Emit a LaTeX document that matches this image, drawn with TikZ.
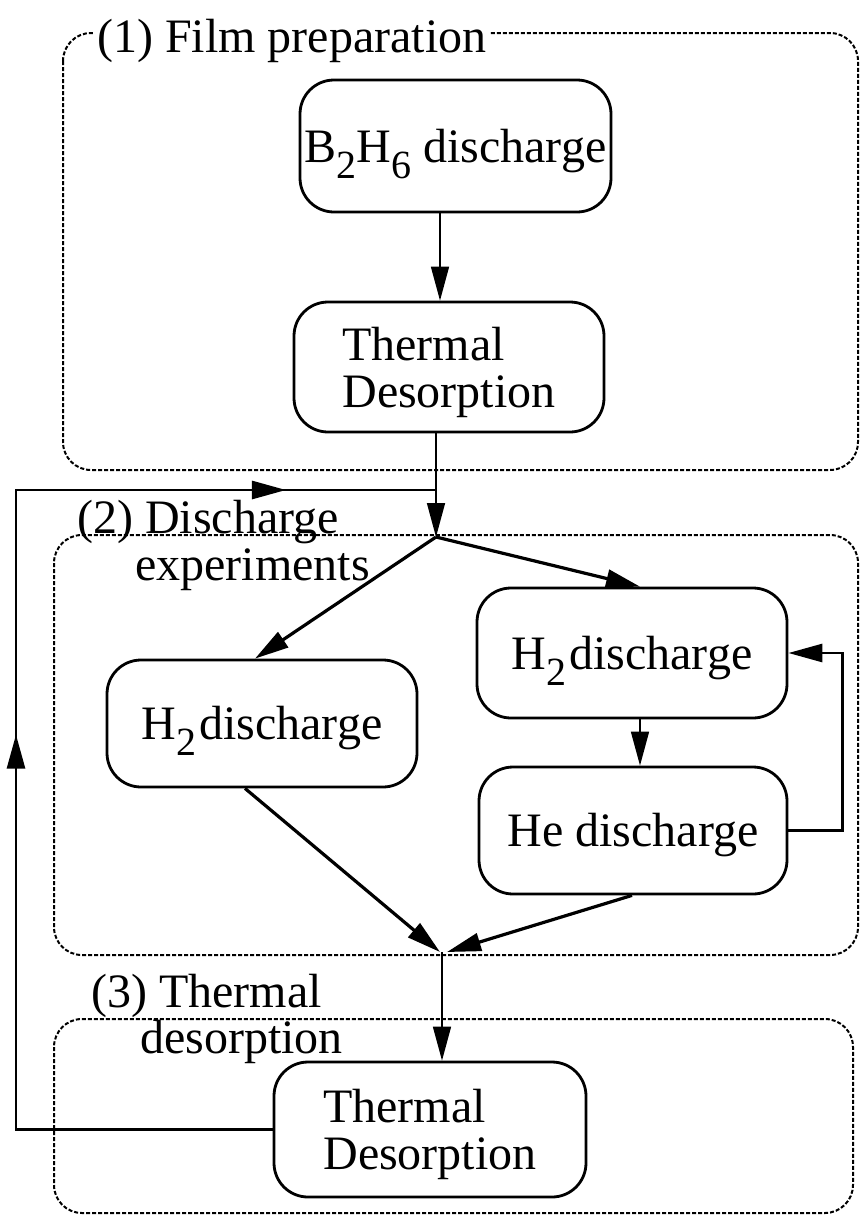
\documentclass[tikz,border=0pt]{standalone}
\usepackage{fontspec}
\setmainfont{Liberation Serif}
\usetikzlibrary{arrows.meta,decorations.markings}
\newcommand\subsc[1]{\raisebox{-0.34em}{\fontsize{40}{40}\selectfont #1}}
\begin{document}
\begin{tikzpicture}[x=1pt,y=-1pt,
  box/.style={draw, line width=2.8pt, rounded corners=34pt, minimum width=310pt, minimum height=130pt, inner sep=0pt, text depth=0pt, font=\fontsize{48}{47}\selectfont, align=left},
  group/.style={draw, line width=2pt, dash pattern=on 4pt off 2pt, rounded corners=28pt},
  lbl/.style={font=\fontsize{48}{47}\selectfont, inner sep=0pt, anchor=base west},
  tip/.style={-{Triangle[length=34pt,width=18pt]}},
  thinarr/.style={tip, line width=1.6pt},
  thickarr/.style={tip, line width=3.2pt},
  fbline/.style={line width=2.8pt},
  marks/.style 2 args={postaction={decorate}, decoration={markings,
    mark=at position #1 with {\arrow{Triangle[length=34pt,width=18pt]}},
    mark=at position #2 with {\arrow{Triangle[length=34pt,width=18pt]}}}},
]
\useasboundingbox (0,0) rectangle (861,1221);
\fill[white] (0,0) rectangle (861,1221);

% groups
\draw[group] (63,33) rectangle (858,470);
\draw[group] (54,535) rectangle (858,955);
\draw[group] (54,1019) rectangle (853,1213);

% group labels
\node[lbl, fill=white, inner sep=3pt] (L1) at (94,52) {(1) Film preparation};
\node[lbl] (L2a) at (77,533) {(2) Discharge};
\node[lbl] (L2b) at (135,580) {experiments};
\node[lbl] (L3a) at (91,1007) {(3) Thermal};
\node[lbl] (L3b) at (140,1053) {desorption};

% boxes
\node[box, minimum width=311pt, minimum height=132pt, text height=32pt] (B) at (455.5,146) {B\subsc{2}H\subsc{6} discharge};
\node[box] (T1) at (449,367) {Thermal\\Desorption};
\node[box, minimum height=127pt, text height=32pt] (HL) at (262,723.5) {H\subsc{2}\hspace{3pt}discharge};
\node[box, text height=32pt] (HR) at (632,653) {H\subsc{2}\hspace{3pt}discharge};
\node[box, minimum width=308pt, minimum height=127pt, text height=32pt] (He) at (633,830.5) {He discharge};
\node[box, minimum width=312pt, minimum height=135pt] (T3) at (430,1129.5) {Thermal\\Desorption};

% junctions
\coordinate (J1) at (436,537);
\coordinate (J2) at (440,952);
\coordinate (fb) at (16,490);
\coordinate (xa) at (440,0);
\coordinate (xb) at (442,0);

% connectors
\draw[thinarr] (xa |- B.south) -- (xa |- T1.north);
\draw[thinarr] (J1 |- T1.south) -- (J1);
\draw[thickarr] (J1) -- ([xshift=-7pt]HL.north);
\draw[thickarr] (J1) -- ([xshift=8pt]HR.north);
\draw[thinarr] ([xshift=8pt]HR.south) -- ([xshift=7pt]He.north);
\draw[fbline, tip] (He.east) -- ++(54,0) |- (HR.east);
\draw[thickarr] ([xshift=-17pt]HL.south) -- (J2);
\draw[thickarr] ([xshift=-1pt]He.south) -- ([xshift=7pt]J2);
\draw[thinarr] (xb |- J2) -- (xb |- T3.north);
\draw[fbline, marks={0.495}{0.886}] (T3.west) -| (fb) -- (fb -| J1);
\end{tikzpicture}
\end{document}
